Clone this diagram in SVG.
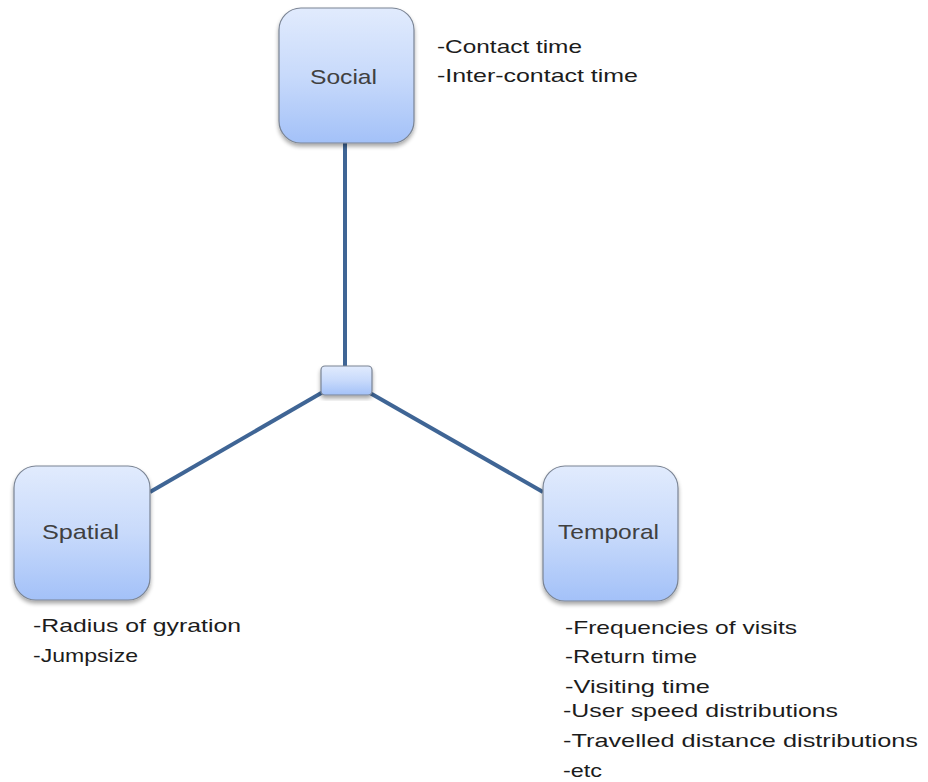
<svg xmlns="http://www.w3.org/2000/svg" width="928" height="782" viewBox="0 0 928 782">
<style>
.box{fill:url(#g);stroke:#7a8494;stroke-width:1.2;filter:url(#sh)}
.lbl{font-family:"Liberation Sans",Arial,sans-serif;font-size:21px;fill:#404040}
.item{font-family:"Liberation Sans",Arial,sans-serif;font-size:19px;fill:#1c1c1c}
.conn{stroke:#3f6595;stroke-width:4;fill:none}
</style>
<defs>
<linearGradient id="g" x1="0" y1="0" x2="0" y2="1">
<stop offset="0" stop-color="#e1ebfd"/>
<stop offset="0.5" stop-color="#c8dafb"/>
<stop offset="1" stop-color="#a3c1f8"/>
</linearGradient>
<filter id="sh" x="-20%" y="-20%" width="140%" height="140%">
<feGaussianBlur in="SourceAlpha" stdDeviation="2"/>
<feOffset dx="0" dy="3" result="b"/>
<feComponentTransfer><feFuncA type="linear" slope="0.35"/></feComponentTransfer>
<feMerge><feMergeNode/><feMergeNode in="SourceGraphic"/></feMerge>
</filter>
</defs>
<rect width="928" height="782" fill="#ffffff"/>
<g id="connectors">
<line class="conn" x1="345" y1="142" x2="345" y2="368"/>
<line class="conn" x1="323" y1="392" x2="150" y2="492"/>
<line class="conn" x1="370" y1="393" x2="543" y2="492"/>
</g>
<g id="social">
<rect class="box" x="279" y="8" width="135" height="135" rx="22"/>
<text class="lbl" x="310" y="84" textLength="67" lengthAdjust="spacingAndGlyphs">Social</text>
<text class="item" x="437" y="53" textLength="145" lengthAdjust="spacingAndGlyphs">-Contact time</text>
<text class="item" x="437" y="82" textLength="201" lengthAdjust="spacingAndGlyphs">-Inter-contact time</text>
</g>
<g id="hub">
<rect class="box" x="321" y="366" width="51" height="29" rx="4"/>
</g>
<g id="spatial">
<rect class="box" x="14" y="466" width="136" height="134" rx="22"/>
<text class="lbl" x="42" y="539" textLength="77" lengthAdjust="spacingAndGlyphs">Spatial</text>
<text class="item" x="33" y="632" textLength="208" lengthAdjust="spacingAndGlyphs">-Radius of gyration</text>
<text class="item" x="33" y="662" textLength="105" lengthAdjust="spacingAndGlyphs">-Jumpsize</text>
</g>
<g id="temporal">
<rect class="box" x="543" y="466" width="135" height="135" rx="22"/>
<text class="lbl" x="558" y="539" textLength="101" lengthAdjust="spacingAndGlyphs">Temporal</text>
<text class="item" x="565" y="634" textLength="232" lengthAdjust="spacingAndGlyphs">-Frequencies of visits</text>
<text class="item" x="565" y="663" textLength="132" lengthAdjust="spacingAndGlyphs">-Return time</text>
<text class="item" x="565" y="693" textLength="145" lengthAdjust="spacingAndGlyphs">-Visiting time</text>
<text class="item" x="563" y="717" textLength="275" lengthAdjust="spacingAndGlyphs">-User speed distributions</text>
<text class="item" x="563" y="747" textLength="355" lengthAdjust="spacingAndGlyphs">-Travelled distance distributions</text>
<text class="item" x="563" y="777" textLength="39" lengthAdjust="spacingAndGlyphs">-etc</text>
</g>
</svg>
